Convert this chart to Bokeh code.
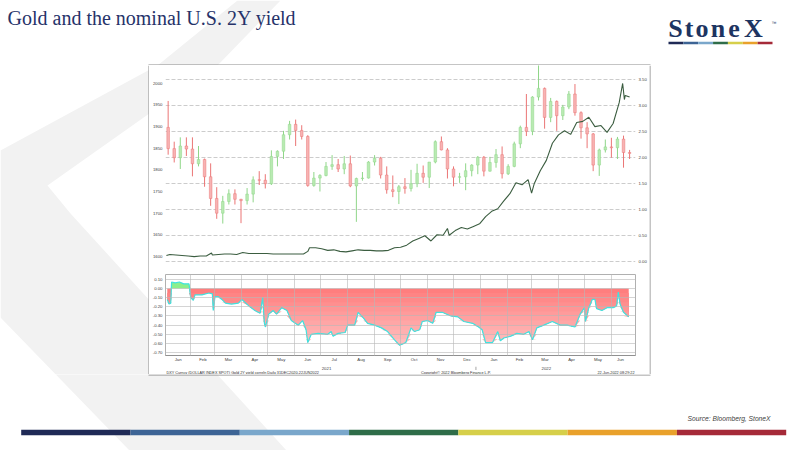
import numpy as np
import pandas as pd
from bokeh.plotting import figure
from bokeh.models import (Range1d, LinearAxis, FixedTicker, NumeralTickFormatter,
                          DatetimeTickFormatter, Grid, ColumnDataSource, Label)
from bokeh.layouts import column, row
from bokeh.embed import file_html
from bokeh.resources import INLINE
from bokeh.core.properties import value

# ---------------- texts ----------------
TITLE = "Gold and the nominal U.S. 2Y yield"
SOURCE = "Source: Bloomberg, StoneX"
LOGO = "StoneX"
FOOT_LEFT = "DXY Curncy (DOLLAR INDEX SPOT)  Gold 2Y yield correln  Daily 31DEC2020-22JUN2022"
FOOT_MID = "Copyright\u00a9 2022 Bloomberg Finance L.P."
FOOT_RIGHT = "22-Jun-2022 08:29:22"
year_labels = ["2021", "2022"]

# ---------------- data ----------------
week_start = pd.date_range("2021-01-04", periods=77, freq="7D")
gold_open = [1898, 1849, 1828, 1855, 1848, 1814, 1824, 1784, 1734, 1700, 1727, 1745, 1732,
             1729, 1744, 1777, 1776, 1768, 1831, 1843, 1881, 1905, 1891, 1877, 1764, 1781,
             1787, 1808, 1812, 1802, 1814, 1763, 1780, 1781, 1818, 1827, 1788, 1754, 1750,
             1761, 1757, 1768, 1792, 1783, 1818, 1865, 1846, 1802, 1783, 1784, 1798, 1811,
             1829, 1797, 1817, 1835, 1791, 1808, 1860, 1898, 1889, 1968, 1988, 1921, 1958,
             1925, 1945, 1975, 1932, 1897, 1883, 1811, 1846, 1853, 1851, 1871, 1840]
gold_high = [1959, 1865, 1875, 1875, 1875, 1855, 1826, 1815, 1760, 1740, 1755, 1755, 1733,
             1758, 1785, 1797, 1790, 1845, 1845, 1890, 1913, 1916, 1903, 1880, 1795, 1790,
             1818, 1834, 1825, 1832, 1833, 1782, 1795, 1820, 1834, 1830, 1808, 1787, 1765,
             1781, 1800, 1814, 1810, 1818, 1868, 1877, 1850, 1808, 1793, 1815, 1813, 1832,
             1832, 1830, 1848, 1854, 1813, 1865, 1902, 1975, 1970, 2070, 1990, 1966, 1960,
             1950, 1982, 1998, 1935, 1910, 1885, 1849, 1870, 1874, 1876, 1879, 1846]
gold_low = [1835, 1817, 1802, 1832, 1785, 1808, 1761, 1717, 1687, 1676, 1720, 1720, 1677,
            1720, 1725, 1765, 1757, 1765, 1808, 1825, 1870, 1855, 1870, 1761, 1761, 1750,
            1785, 1800, 1795, 1790, 1760, 1680, 1775, 1780, 1810, 1780, 1745, 1737, 1721,
            1745, 1750, 1760, 1770, 1758, 1815, 1845, 1780, 1762, 1770, 1753, 1785, 1790,
            1785, 1796, 1805, 1780, 1788, 1806, 1850, 1878, 1880, 1960, 1895, 1910, 1890,
            1915, 1940, 1925, 1872, 1850, 1797, 1786, 1840, 1828, 1825, 1805, 1825]
gold_close = [1849, 1828, 1855, 1848, 1814, 1824, 1784, 1734, 1700, 1727, 1745, 1732, 1729,
              1744, 1777, 1776, 1768, 1831, 1843, 1881, 1905, 1891, 1877, 1764, 1781, 1787,
              1808, 1812, 1802, 1814, 1763, 1780, 1781, 1818, 1827, 1788, 1754, 1750, 1761,
              1757, 1768, 1792, 1783, 1818, 1865, 1846, 1802, 1783, 1784, 1798, 1811, 1829,
              1797, 1817, 1835, 1791, 1808, 1860, 1898, 1889, 1968, 1988, 1921, 1958, 1925,
              1945, 1975, 1932, 1897, 1883, 1811, 1846, 1853, 1851, 1871, 1840, 1838]

yield_dates = ["2021-01-04", "2021-01-08", "2021-01-15", "2021-01-22", "2021-01-29", "2021-02-05",
               "2021-02-12", "2021-02-19", "2021-02-25", "2021-02-26", "2021-03-05", "2021-03-12",
               "2021-03-19", "2021-03-26", "2021-04-02", "2021-04-09", "2021-04-16", "2021-04-23",
               "2021-04-30", "2021-05-07", "2021-05-14", "2021-05-21", "2021-05-28", "2021-06-04",
               "2021-06-11", "2021-06-16", "2021-06-18", "2021-06-25", "2021-07-02", "2021-07-09",
               "2021-07-16", "2021-07-23", "2021-07-30", "2021-08-06", "2021-08-13", "2021-08-20",
               "2021-08-27", "2021-09-03", "2021-09-10", "2021-09-17", "2021-09-24", "2021-10-01",
               "2021-10-08", "2021-10-15", "2021-10-22", "2021-10-29", "2021-11-05", "2021-11-12",
               "2021-11-19", "2021-11-24", "2021-11-26", "2021-12-03", "2021-12-10", "2021-12-17",
               "2021-12-24", "2021-12-31", "2022-01-07", "2022-01-14", "2022-01-21", "2022-01-28",
               "2022-02-04", "2022-02-11", "2022-02-18", "2022-02-25", "2022-03-01", "2022-03-04",
               "2022-03-11", "2022-03-18", "2022-03-25", "2022-04-01", "2022-04-08", "2022-04-15",
               "2022-04-22", "2022-04-29", "2022-05-06", "2022-05-13", "2022-05-20", "2022-05-27",
               "2022-06-03", "2022-06-10", "2022-06-14", "2022-06-16", "2022-06-17", "2022-06-22"]
yield_2y = [0.12, 0.14, 0.13, 0.12, 0.11, 0.10, 0.11, 0.11, 0.17, 0.13, 0.14, 0.15,
            0.15, 0.14, 0.18, 0.16, 0.16, 0.16, 0.16, 0.15, 0.15, 0.15, 0.15, 0.15,
            0.15, 0.20, 0.27, 0.27, 0.25, 0.22, 0.23, 0.20, 0.19, 0.21, 0.23, 0.22,
            0.22, 0.21, 0.21, 0.22, 0.27, 0.28, 0.32, 0.40, 0.45, 0.50, 0.40, 0.52,
            0.51, 0.64, 0.51, 0.60, 0.66, 0.63, 0.68, 0.73, 0.87, 0.97, 1.02, 1.17,
            1.31, 1.52, 1.48, 1.58, 1.32, 1.50, 1.75, 1.95, 2.28, 2.44, 2.52, 2.45,
            2.68, 2.70, 2.78, 2.60, 2.62, 2.49, 2.66, 3.06, 3.43, 3.12, 3.20, 3.17]

corr_dates = ["2021-01-05", "2021-01-07", "2021-01-09", "2021-01-10", "2021-01-14", "2021-01-19",
              "2021-01-24", "2021-01-30", "2021-02-01", "2021-02-04", "2021-02-06", "2021-02-14",
              "2021-02-22", "2021-02-26", "2021-02-27", "2021-03-01", "2021-03-05", "2021-03-09",
              "2021-03-13", "2021-03-20", "2021-03-28", "2021-04-01", "2021-04-09", "2021-04-16",
              "2021-04-22", "2021-04-25", "2021-04-27", "2021-04-28", "2021-05-02", "2021-05-07",
              "2021-05-11", "2021-05-17", "2021-05-23", "2021-05-28", "2021-06-05", "2021-06-10",
              "2021-06-14", "2021-06-16", "2021-06-20", "2021-06-28", "2021-07-09", "2021-07-13",
              "2021-07-15", "2021-07-21", "2021-07-29", "2021-08-01", "2021-08-09", "2021-08-13",
              "2021-08-19", "2021-08-24", "2021-09-01", "2021-09-09", "2021-09-16", "2021-09-24",
              "2021-09-30", "2021-10-07", "2021-10-13", "2021-10-17", "2021-10-23", "2021-10-26",
              "2021-11-01", "2021-11-07", "2021-11-11", "2021-11-18", "2021-11-28", "2021-12-06",
              "2021-12-13", "2021-12-23", "2021-12-30", "2022-01-03", "2022-01-07", "2022-01-15",
              "2022-01-21", "2022-01-24", "2022-01-28", "2022-02-05", "2022-02-12", "2022-02-20",
              "2022-02-26", "2022-03-02", "2022-03-07", "2022-03-15", "2022-03-25", "2022-04-03",
              "2022-04-11", "2022-04-20", "2022-04-26", "2022-05-01", "2022-05-02", "2022-05-06",
              "2022-05-10", "2022-05-13", "2022-05-15", "2022-05-21", "2022-05-27", "2022-06-03",
              "2022-06-07", "2022-06-09", "2022-06-11", "2022-06-15", "2022-06-21"]
corr_values = [-0.12, -0.17, -0.16, 0.07, 0.06, 0.07, 0.05, 0.05, -0.10, -0.13, -0.07, -0.07,
               -0.05, -0.06, -0.24, -0.09, -0.09, -0.12, -0.16, -0.17, -0.16, -0.12, -0.19, -0.24,
               -0.27, -0.10, -0.38, -0.42, -0.28, -0.24, -0.28, -0.21, -0.24, -0.35, -0.40, -0.35,
               -0.45, -0.59, -0.50, -0.49, -0.50, -0.47, -0.52, -0.49, -0.48, -0.40, -0.40, -0.26,
               -0.32, -0.38, -0.40, -0.43, -0.47, -0.56, -0.62, -0.59, -0.43, -0.47, -0.45, -0.36,
               -0.35, -0.38, -0.26, -0.26, -0.30, -0.31, -0.36, -0.38, -0.42, -0.45, -0.59, -0.59,
               -0.47, -0.57, -0.54, -0.52, -0.49, -0.50, -0.47, -0.56, -0.43, -0.40, -0.36, -0.40,
               -0.40, -0.42, -0.28, -0.21, -0.36, -0.21, -0.12, -0.12, -0.22, -0.24, -0.21, -0.21,
               -0.19, -0.04, -0.17, -0.26, -0.31]

gold_ticks = [1600, 1650, 1700, 1750, 1800, 1850, 1900, 1950, 2000]
yield_ticks = [0.0, 0.5, 1.0, 1.5, 2.0, 2.5, 3.0, 3.5]
corr_ticks = [0.1, 0.0, -0.1, -0.2, -0.3, -0.4, -0.5, -0.6, -0.7]

# ---------------- style ----------------
BAR_COLORS = ["#1f2a56", "#3d6495", "#7aa7cb", "#2f6d49", "#d6cf4a", "#e9a12b", "#a52a38"]
SHAPE_X = [237, 280, 217, 47, 70, 286, 129, 0, 0, 157]
SHAPE_Y = [0, 0, 65, 185, 213, 450, 450, 317, 150, 65]
GRAY = "#f2f2f2"
BOX = "#8a8a8a"
FONT = "Liberation Sans"
SMALL = "4.3px"
DAY_MS = 86400000.0
W, H = 800, 450


def ms(t):
    return (pd.Timestamp(t) - pd.Timestamp("1970-01-01")).total_seconds() * 1000.0


def deco(x0, x1, y0, y1):
    f = figure(width=int(x1 - x0), height=int(y1 - y0), x_range=Range1d(x0, x1),
               y_range=Range1d(y1, y0), x_axis_type=None, y_axis_type=None,
               toolbar_location=None, output_backend="svg", min_border=0,
               outline_line_color=None, background_fill_color="white",
               border_fill_color="white")
    f.patch(SHAPE_X, SHAPE_Y, fill_color=GRAY, line_color=None)
    return f


# date range of the Bloomberg frames (frame spans 472 px)
x_start = pd.Timestamp("2021-01-01") + pd.Timedelta(days=1.95)
x_end = pd.Timestamp("2021-01-01") + pd.Timedelta(days=543.8)
xr = Range1d(x_start, x_end)

# ---------------- header ----------------
head = deco(0, W, 0, 65)
head.add_layout(Label(x=7, y=17.8, text=TITLE, text_font="Liberation Serif",
                      text_font_size="20px", text_color="#263269",
                      text_baseline="middle"))
logo_x = [675, 688.5, 701.5, 717.5, 733.5, 753]
head.text(x=logo_x, y=[28.4] * 6, text=list(LOGO), text_font=value("Liberation Serif"),
          text_font_size=value("26px"), text_font_style="bold", text_color="#1d3461",
          text_align="center", text_baseline="middle")
head.text(x=[771], y=[22], text=["\u2122"], text_font=value(FONT),
          text_font_size=value("5px"), text_color="#1d3461", text_baseline="middle")
nseg = len(BAR_COLORS)
lw = (772 - 668) / nseg
head.quad(left=[668 + i * lw for i in range(nseg)], right=[668 + (i + 1) * lw for i in range(nseg)],
          top=[41.3] * nseg, bottom=[43.8] * nseg, fill_color=BAR_COLORS, line_color=None)
head.segment(x0=[148], y0=[64.5], x1=[650], y1=[64.5], line_color=BOX, line_width=1)

# ---------------- left / right deco ----------------
left = deco(0, 149, 65, 374)
left.segment(x0=[148.5], y0=[65], x1=[148.5], y1=[374], line_color=BOX, line_width=1)
right = deco(649, W, 65, 374)
right.segment(x0=[649.5], y0=[65], x1=[649.5], y1=[374], line_color=BOX, line_width=1)

# ---------------- gold panel ----------------
pg = figure(width=500, height=207, x_range=xr, y_range=Range1d(1563.1, 2040.8),
            x_axis_type="datetime", x_axis_location=None, toolbar_location=None,
            output_backend="svg", min_border_left=14, min_border_right=14,
            min_border_top=0, min_border_bottom=0, outline_line_color=None,
            background_fill_color="white", border_fill_color="white")
pg.xgrid.visible = False
pg.ygrid.visible = False
pg.extra_y_ranges = {"yld": Range1d(-0.206, 3.775)}
yax = LinearAxis(y_range_name="yld", ticker=FixedTicker(ticks=yield_ticks),
                 formatter=NumeralTickFormatter(format="0.00"))
pg.add_layout(yax, "right")
pg.add_layout(Grid(dimension=1, ticker=FixedTicker(ticks=yield_ticks), y_range_name="yld",
                   grid_line_color="#cccccc", grid_line_dash="4 2", grid_line_width=1))
pg.yaxis[0].ticker = FixedTicker(ticks=gold_ticks)
for ax in pg.yaxis:
    ax.axis_line_color = None
    ax.major_tick_line_color = None
    ax.minor_tick_line_color = None
    ax.major_tick_out = 0
    ax.major_tick_in = 0
    ax.minor_tick_out = 0
    ax.major_label_standoff = 3
    ax.major_label_text_font = FONT
    ax.major_label_text_font_size = SMALL
    ax.major_label_text_color = "#404040"

up = [c >= o for o, c in zip(gold_open, gold_close)]
gsrc = ColumnDataSource(dict(
    x=week_start + pd.Timedelta(days=2),
    top=[max(o, c) for o, c in zip(gold_open, gold_close)],
    bottom=[min(o, c) for o, c in zip(gold_open, gold_close)],
    high=gold_high, low=gold_low,
    fill=["#b9eab2" if u else "#f7b3b3" for u in up],
    wick=["#8fd688" if u else "#eb7575" for u in up],
))
pg.segment(x0="x", y0="low", x1="x", y1="high", source=gsrc, line_color="wick", line_width=1)
pg.vbar(x="x", width=3 * DAY_MS, top="top", bottom="bottom", source=gsrc,
        fill_color="fill", line_color="wick", line_width=0.5)
pg.line(x=pd.to_datetime(yield_dates), y=yield_2y, y_range_name="yld",
        line_color="#3b5d40", line_width=1.1)

# ---------------- divider ----------------
pdiv = figure(width=500, height=2, x_range=Range1d(0, 1), y_range=Range1d(0, 1),
              x_axis_type=None, y_axis_type=None, toolbar_location=None,
              output_backend="svg", min_border=0, outline_line_color=None,
              background_fill_color="#3c3c3c", border_fill_color="#3c3c3c")
pdiv.quad(left=[0], right=[1], bottom=[0], top=[1], fill_color="#3c3c3c", line_color=None)

# ---------------- correlation panel ----------------
ps = figure(width=500, height=90, x_range=xr, y_range=Range1d(-0.731, 0.152),
            x_axis_type="datetime", toolbar_location=None, output_backend="svg",
            min_border_left=14, min_border_right=14, min_border_top=0, min_border_bottom=6,
            outline_line_color="#b0b0b0", background_fill_color="white",
            border_fill_color="white")
last_day = pd.Timestamp("2022-06-22")
month_starts = pd.date_range("2021-01-01", "2022-06-01", freq="MS")
mids = []
for m0 in month_starts:
    m1 = min(m0 + pd.offsets.MonthBegin(1), last_day)
    m0v = max(m0, x_start)
    mids.append(ms(m0v + (m1 - m0v) / 2))
ps.xaxis.ticker = FixedTicker(ticks=mids)
ps.xaxis.formatter = DatetimeTickFormatter(days="%b", months="%b", years="%b")
ps.yaxis.ticker = FixedTicker(ticks=corr_ticks)
ps.yaxis.formatter = NumeralTickFormatter(format="0.00")
for ax in (ps.xaxis[0], ps.yaxis[0]):
    ax.major_tick_line_color = None
    ax.minor_tick_line_color = None
    ax.major_tick_out = 0
    ax.major_tick_in = 0
    ax.minor_tick_out = 0
    ax.major_label_text_font = FONT
    ax.major_label_text_font_size = SMALL
    ax.major_label_text_color = "#404040"
ps.xaxis.major_label_standoff = 1
ps.yaxis.major_label_standoff = 3
ps.xaxis.axis_line_color = "#909090"
ps.yaxis.axis_line_color = None
ps.xgrid.ticker = FixedTicker(ticks=[ms(m) for m in month_starts[1:]])
ps.ygrid.ticker = FixedTicker(ticks=corr_ticks)
for g in (ps.xgrid[0], ps.ygrid[0]):
    g.grid_line_color = "#b8b8b8"
    g.grid_line_alpha = 0.6
    g.level = "guide"

cx = pd.to_datetime(corr_dates)
cv = np.array(corr_values)
ps.varea(x=cx, y1=np.zeros_like(cv), y2=np.maximum(cv, 0), fill_color="#8cef8c")
nb = 15
for k in range(nb):
    edge = -0.05 * k
    t = k / (nb - 1)
    g = int(round(126 + t * 80))
    ps.varea(x=cx, y1=np.minimum(cv, edge), y2=np.full_like(cv, edge),
             fill_color="#%02x%02x%02x" % (255, g, g))
ps.line(x=cx, y=cv, line_color="#3fe3e0", line_width=1.2)

# ---------------- bottom strip of the Bloomberg image ----------------
strip = figure(width=500, height=10, x_range=Range1d(149, 649), y_range=Range1d(374, 364),
               x_axis_type=None, y_axis_type=None, toolbar_location=None,
               output_backend="svg", min_border=0, outline_line_color=None,
               background_fill_color="white", border_fill_color="white")
dpp = (ms(x_end) - ms(x_start)) / 472.0
strip.extra_x_ranges = {"date": Range1d(ms(x_start) - 14 * dpp, ms(x_end) + 14 * dpp)}
year_starts = [pd.Timestamp("2021-01-01"), pd.Timestamp("2022-01-01")]
year_mid = [ms(year_starts[0] + (year_starts[1] - year_starts[0]) / 2),
            ms(year_starts[1] + (last_day - year_starts[1]) / 2)]
strip.text(x=year_mid, y=[366.2, 366.2], text=year_labels, x_range_name="date",
           text_font=value(FONT), text_font_size=value(SMALL), text_color="#404040",
           text_align="center", text_baseline="middle")
strip.segment(x0=[ms(year_starts[1])], y0=[364], x1=[ms(year_starts[1])], y1=[367.5],
              x_range_name="date", line_color="#909090", line_width=0.8)
for txt, xx, al in ((FOOT_LEFT, 150, "left"), (FOOT_MID, 458, "center"), (FOOT_RIGHT, 648, "right")):
    strip.add_layout(Label(x=xx, y=370.8, text=txt, text_font=FONT, text_font_size="3.8px",
                           text_color="#303030", text_align=al, text_baseline="middle"))

# ---------------- footer ----------------
foot = deco(0, W, 374, H)
foot.segment(x0=[148], y0=[374.5], x1=[650], y1=[374.5], line_color=BOX, line_width=1)
foot.add_layout(Label(x=770, y=417.5, text=SOURCE, text_font=FONT, text_font_size="6.7px",
                      text_font_style="italic", text_color="#404040", text_align="right",
                      text_baseline="middle"))
bw = (785.7 - 20.7) / nseg
foot.quad(left=[20.7 + i * bw for i in range(nseg)], right=[20.7 + (i + 1) * bw for i in range(nseg)],
          top=[429.3] * nseg, bottom=[434.7] * nseg, fill_color=BAR_COLORS, line_color=None)

bloom = column(pg, pdiv, ps, strip)
layout = column(head, row(left, bloom, right), foot)

open("out.html", "w").write(file_html(layout, INLINE))
